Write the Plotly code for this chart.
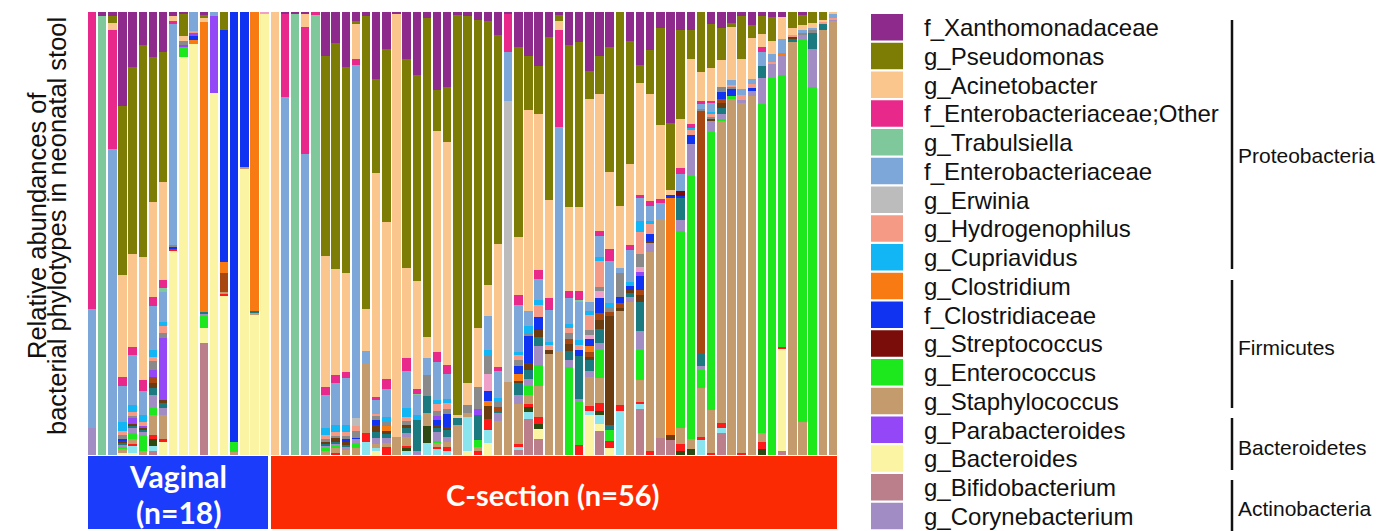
import plotly.graph_objects as go

samples = [f"V{i}" for i in range(1, 19)] + [f"C{i}" for i in range(1, 57)]

# ---- relative abundances (% of reads) per sample; missing = 0 ----
xantho = {"V2":1,"V3":1,"V4":21,"V5":12.3,"V6":7.4,"V7":10,"V8":9,"V9":1,"V10":0.5,"V12":0.6,
 "C2":0.5,"C3":0.5,"C4":0.5,"C6":9.8,"C7":7,"C8":12.3,"C9":2.1,"C10":1,"C11":15.2,"C12":8.3,"C13":0.5,
 "C14":10.5,"C15":14.1,"C16":1.3,"C17":17.5,"C18":16.7,"C19":0.6,"C20":1,"C21":1.7,"C22":1.9,"C23":5.1,
 "C24":0.5,"C25":7.8,"C26":9.6,"C27":11.6,"C28":5.5,"C29":0.6,"C30":7.4,"C31":6.6,"C32":13.2,"C33":9.5,
 "C34":7.8,"C36":6.4,"C37":11.3,"C38":8.4,"C39":3.6,"C40":24.7,"C41":4,"C42":4,"C44":2.7,"C45":3.5,
 "C46":2.5,"C47":0.8,"C48":2.9,"C49":1,"C50":1.2,"C51":1.2,"C53":0.6}
pseudo = {"V3":1.5,"V4":38,"V5":42,"V6":47.4,"V7":32.4,"V8":29,"V10":5,"V12":0.8,"V14":4.1,
 "C6":44.8,"C7":50.4,"C8":46.3,"C9":0.4,"C10":65.4,"C11":21.2,"C12":38.7,"C14":46.9,"C15":46.3,"C16":71.3,
 "C17":9,"C18":12.3,"C19":89.6,"C20":82.7,"C21":69.6,"C22":59,"C23":46.7,"C25":42.5,"C26":11.9,"C27":10.2,
 "C28":36.5,"C29":1.5,"C30":36.6,"C31":36.1,"C32":6.3,"C33":8.4,"C34":28.2,"C35":43.6,"C36":27.3,"C37":3.8,
 "C38":9.9,"C39":21.7,"C40":15,"C41":19.9,"C42":6.4,"C43":13.5,"C44":10,"C45":7.3,"C46":0.8,"C47":9.8,
 "C48":2.9,"C49":3.8,"C50":5.2,"C52":3.6,"C53":2.3,"C54":2.5,"C55":1.7}
acineto = {"V3":1.5,"V4":23,"V5":20.7,"V6":27.5,"V7":21.4,"V8":21.8,"V9":1,"V10":1,"V12":0.8,
 "C1":100,"C4":2.9,"C6":29.3,"C7":23.7,"C8":22.2,"C9":8.1,"C10":9.4,"C11":50.4,"C12":35,"C13":95,"C14":20.1,
 "C15":24.1,"C16":4.7,"C17":49.4,"C18":49.9,"C19":0.7,"C20":4.9,"C21":13.2,"C22":7,"C23":27.5,"C25":13,
 "C26":44.2,"C27":33.1,"C28":21.8,"C29":1.9,"C30":19,"C31":18.4,"C32":45.8,"C33":29.7,"C34":17.2,"C35":13.9,
 "C36":17.7,"C37":23.5,"C38":23.7,"C39":16.5,"C40":1.1,"C41":10.7,"C42":14.5,"C43":6.5,"C44":7.3,"C45":6,
 "C46":11.8,"C47":6.5,"C48":9.2,"C49":3.1,"C50":2.9,"C51":4.8,"C52":1.5,"C53":1.1,"C54":1.1,"C55":0.5,"C56":0.5}
entero_other = {"V1":67,"V3":27,"V4":2,"V5":1.7,"V6":2.5,"V7":1.8,"V8":1.9,"V9":0.8,
 "C2":18.7,"C4":28.6,"C5":0.6,"C6":1.8,"C7":1.9,"C8":1.5,"C9":1.3,"C11":0.8,"C12":2.3,"C14":2.9,"C15":1.1,
 "C17":2.3,"C18":1.9,"C23":0.8,"C24":8.5,"C25":2.1,"C27":2.1,"C28":2.6,"C29":21.8,"C30":1.7,"C31":1.9,
 "C33":1.1,"C34":2.8,"C36":1.3,"C37":0.8,"C38":1.1,"C39":0.9,"C41":1.4,"C42":0.9,"C43":0.8,"C44":0.5,"C49":1.1}
trabul = {"V2":99,"V8":0.7,"C3":99.5,"C5":99,"C15":0.3,"C31":0.5}
entero = {"V1":27,"V3":69,"V4":8,"V5":11.3,"V6":5.4,"V7":10,"V8":6.8,"V9":49.6,"V11":4.1,"V13":0.8,
 "C2":80.8,"C4":67.6,"C6":7.4,"C7":9.4,"C8":10.5,"C9":79,"C10":3,"C11":3,"C12":6.4,"C14":8.3,"C15":4.5,
 "C16":3.8,"C17":8.5,"C18":5.6,"C22":7.5,"C23":6,"C24":10.9,"C25":10.5,"C26":3.2,"C27":4.3,"C28":7.1,
 "C29":50,"C30":5.8,"C31":8.3,"C32":2,"C33":4.5,"C34":9.4,"C35":1,"C36":7,"C37":4.9,"C38":3.4,"C39":3.6,
 "C41":3.8,"C43":1,"C44":2,"C46":1,"C47":1.5,"C48":1.1,"C49":3,"C50":1.9,"C51":3.2,"C53":0.8,"C54":0.5,"C56":0.8}
erwinia = {"C9":1.9,"C24":63.2}
hydro = {"V4":1,"V5":1,"V6":1,"V7":1,"V8":1.5,"V11":0.6,"C6":1,"C7":1,"C8":1,"C9":1,"C11":0.5,"C14":0.8,
 "C17":1.5,"C18":1.5,"C25":1,"C27":2.6,"C28":1,"C30":1,"C31":1,"C32":3.4,"C33":5.5,"C37":4.5,"C38":2.3,
 "C42":1,"C44":0.5,"C46":0.5,"C47":1.1,"C48":0.8,"C50":0.4,"C52":0.5,"C55":0.5,"C56":0.3}
cupria = {"V4":2,"V5":1.5,"V6":1.5,"V7":1.5,"V8":1,"C6":1.5,"C7":1.5,"C8":1.5,"C12":1,"C14":2,"C15":1.1,
 "C17":1,"C18":0.8,"C22":1.3,"C23":1,"C25":0.8,"C26":1.5,"C27":1.1,"C28":0.8,"C30":1,"C31":1.1,"C32":1,
 "C33":1,"C34":1,"C36":0.8,"C37":2.3,"C38":0.5,"C42":0.5,"C44":0.5}
clostridium = {"V11":1.1,"V12":65,"V14":2.3,"V17":67,"C12":1,"C22":1.1,"C25":1.5,"C32":1.5,"C40":52.9,"C51":0.6}
clostridiaceae = {"V4":0.4,"V9":0.3,"V11":0.7,"V14":52,"V15":96.3,"V16":34.8,"C8":0.5,"C9":0.3,"C11":1,
 "C17":1,"C18":3,"C22":2.3,"C25":2,"C26":6,"C27":2.7,"C31":1.5,"C32":1.5,"C33":3.4,"C35":1.5,"C36":1,
 "C37":3,"C38":1.6,"C40":0.5,"C41":0.5,"C42":2,"C45":1.5,"C46":1.6,"C48":0.8}
strepto = {"C41":1.1}
enteroc = {"V4":0.5,"V5":1.5,"V6":3.5,"V7":1.5,"V10":2.3,"V12":2.6,"V15":2.2,"C6":0.5,"C7":0.5,"C9":1.1,
 "C17":0.3,"C21":1.4,"C26":2,"C27":4.5,"C30":20,"C31":9.4,"C33":6,"C34":2.6,"C37":6.4,"C41":43.9,"C42":58.5,
 "C43":3.9,"C44":62.6,"C45":0.5,"C46":0.7,"C49":73.3,"C50":84.3,"C51":60.7,"C53":85.8,"C54":82.4}
staph = {"V4":0.8,"V5":1,"V6":1,"V7":4.5,"V8":5.5,"V14":0.5,"V15":0.6,"V16":0.5,"V17":0.5,"C6":1,"C7":1,
 "C8":1.2,"C9":1.5,"C10":15.4,"C11":1,"C12":1,"C13":4,"C14":2,"C16":3,"C17":1,"C18":1.3,"C19":6.7,"C20":1,
 "C21":1.1,"C23":7.5,"C24":16.5,"C25":9,"C26":2,"C27":6.4,"C28":22.5,"C29":23.2,"C32":6.5,"C33":5.6,"C35":21,
 "C36":33.9,"C37":4.5,"C38":44.4,"C39":49,"C41":3.4,"C42":2.1,"C43":11.2,"C44":9.7,"C45":67.3,"C46":78.9,
 "C47":78.3,"C48":80,"C49":1.9,"C52":92.5,"C53":7.4,"C55":95.5,"C56":98}
parabac = {"V5":1.2,"V6":0.4,"V7":1.5,"V8":14,"V10":0.5,"V11":0.7,"V13":17.5,"C17":1,"C21":1.5,"C37":1}
bacteroides = {"V4":0.5,"V5":0.5,"V8":3,"V9":46,"V10":90,"V11":91,"V12":3.4,"V13":81.5,"V14":35.7,"V16":64,
 "V17":31.5,"V18":99.5,"C11":1,"C20":1,"C22":2.6,"C27":2.2,"C32":9,"C33":1.4,"C34":1.5,"C51":22.9}
bifido = {"V7":1,"V12":25,"C25":1.2,"C26":8,"C27":3.4,"C33":5.3,"C37":9.8,"C39":3.7,"C40":3.3,"C45":4.8,"C51":0.8}
coryne = {"V1":6,"V4":0.5,"V5":1,"V6":0.7,"V7":3,"V8":1.5,"V12":0.6,"C6":0.5,"C7":0.5,"C8":0.5,"C9":1,
 "C11":1.3,"C12":1,"C14":1,"C15":0.8,"C17":2,"C18":1,"C23":1.8,"C25":2,"C26":1.5,"C27":4.2,"C30":1.4,
 "C31":0.5,"C32":1.5,"C33":1.5,"C36":1,"C37":4.1,"C38":1.8,"C41":2.4,"C42":7.1,"C43":1,"C44":2.5,"C45":1,
 "C47":0.4,"C48":1.1,"C49":6,"C50":3.2,"C51":4.4,"C53":1.1,"C54":8.5,"C56":0.4}
# minor, unlabeled taxa
teal = {"V4":0.5,"V5":0.5,"V6":0.4,"V7":1.5,"V8":1,"V12":0.3,"V17":0.4,"C6":0.5,"C7":0.5,"C8":0.5,"C11":1.5,
 "C12":1,"C14":1,"C15":7.1,"C16":3.7,"C17":1,"C18":1.5,"C19":1.5,"C21":5.6,"C23":0.5,"C25":2.5,"C26":2,
 "C27":1.9,"C30":2.2,"C31":9.4,"C32":2.3,"C33":3,"C34":1,"C36":1,"C37":6,"C41":4.9,"C43":2.6,"C45":1.5,
 "C49":2.6,"C52":0.8,"C54":3.8,"C55":1.4}
light_cyan = {"V5":1.5,"V7":1,"C10":3,"C11":0.5,"C14":1,"C16":2.6,"C17":1.5,"C18":1,"C20":7.5,"C22":3,
 "C25":0.5,"C26":1.5,"C32":1,"C33":1.9,"C35":9.8,"C37":1,"C43":3.4,"C45":1.3}
red = {"V5":0.5,"V7":1,"V8":0.5,"V9":0.5,"V14":0.4,"C7":0.5,"C10":1.9,"C12":1.7,"C14":0.5,"C17":0.3,"C18":0.7,
 "C21":0.8,"C22":2.4,"C25":0.8,"C26":0.7,"C27":1.6,"C31":2.3,"C32":1,"C33":1.6,"C34":1.6,"C35":1.4,"C37":0.5,
 "C38":0.8,"C41":1.5,"C43":0.6,"C44":0.4,"C45":1,"C47":0.5,"C49":1.5,"C51":0.5}
dark_brown = {"V4":0.5,"V5":0.5,"V6":0.5,"V7":1,"V8":0.7,"C6":0.5,"C7":0.7,"C8":0.8,"C11":1.5,"C12":0.7,
 "C14":0.7,"C17":0.7,"C18":0.7,"C22":2.9,"C25":0.5,"C26":1.5,"C27":1.5,"C28":1,"C30":1.6,"C32":0.8,"C33":2,
 "C34":24.5,"C35":0.7,"C36":0.5,"C37":1.5,"C38":0.5,"C40":1.1,"C44":0.4,"C45":1,"C52":0.4}
rust = {"V7":1.5,"V14":4.3,"C23":1,"C30":1,"C32":1,"C33":1.5,"C34":1,"C35":1.1,"C37":1,"C43":55,"C45":1}
dark_green = {"V7":1.5,"C14":0.5,"C16":3.8,"C26":1,"C27":1,"C33":1,"C41":1,"C42":1.4,"C49":1.4}
grey = {"V4":0.8,"V5":0.5,"V7":1.9,"V8":1,"V9":0.6,"V10":1,"C6":0.5,"C7":0.5,"C8":0.7,"C9":1.5,"C11":1,
 "C12":1,"C14":1,"C16":4.9,"C17":1,"C18":1,"C20":1.9,"C21":4.9,"C22":4.1,"C23":1,"C25":1.3,"C26":0.7,
 "C30":1.5,"C32":1,"C33":0.9,"C34":1,"C35":5.4,"C37":2.8,"C43":0.4,"C44":0.5,"C45":1,"C46":0.5,"C53":0.3,"C54":0.4}
light_pink = {"V18":0.5,"C22":3.8,"C32":1,"C33":1.5,"C37":1}

legend_names = ["f_Xanthomonadaceae", "g_Pseudomonas", "g_Acinetobacter", "f_Enterobacteriaceae;Other",
                "g_Trabulsiella", "f_Enterobacteriaceae", "g_Erwinia", "g_Hydrogenophilus", "g_Cupriavidus",
                "g_Clostridium", "f_Clostridiaceae", "g_Streptococcus", "g_Enterococcus", "g_Staphylococcus",
                "g_Parabacteroides", "g_Bacteroides", "g_Bifidobacterium", "g_Corynebacterium"]
legend_colors = ["#8d2a8c", "#7d7d05", "#fbc58e", "#e8288a", "#7ec89b", "#7da7d9", "#bcbcbc", "#f59a84",
                 "#12b6f4", "#f77b12", "#0f33f0", "#7a0c0a", "#1de81d", "#c49b6c", "#9447f7", "#fbf4a2",
                 "#ba7f8a", "#a18cc4"]
phyla = ["Proteobacteria", "Firmicutes", "Bacteroidetes", "Actinobacteria"]
groups = ["<b>Vaginal</b>", "<b>(n=18)</b>", "<b>C-section (n=56)</b>"]

col = dict(zip(legend_names, legend_colors))
# stacking order, bottom -> top
stack = [
    ("g_Bifidobacterium", bifido, col["g_Bifidobacterium"]),
    ("g_Bacteroides", bacteroides, col["g_Bacteroides"]),
    ("other1", light_cyan, "#8ae4ee"),
    ("other2", dark_green, "#2d4a12"),
    ("other3", red, "#ff1a1a"),
    ("g_Staphylococcus", staph, col["g_Staphylococcus"]),
    ("g_Enterococcus", enteroc, col["g_Enterococcus"]),
    ("g_Corynebacterium", coryne, col["g_Corynebacterium"]),
    ("other4", teal, "#1a7a80"),
    ("other5", dark_brown, "#6b3c10"),
    ("other6", rust, "#a8470f"),
    ("g_Clostridium", clostridium, col["g_Clostridium"]),
    ("f_Clostridiaceae", clostridiaceae, col["f_Clostridiaceae"]),
    ("g_Parabacteroides", parabac, col["g_Parabacteroides"]),
    ("g_Streptococcus", strepto, col["g_Streptococcus"]),
    ("other7", light_pink, "#eea0c8"),
    ("other8", grey, "#8a8a8a"),
    ("g_Hydrogenophilus", hydro, col["g_Hydrogenophilus"]),
    ("g_Cupriavidus", cupria, col["g_Cupriavidus"]),
    ("g_Erwinia", erwinia, col["g_Erwinia"]),
    ("f_Enterobacteriaceae", entero, col["f_Enterobacteriaceae"]),
    ("g_Trabulsiella", trabul, col["g_Trabulsiella"]),
    ("f_Enterobacteriaceae;Other", entero_other, col["f_Enterobacteriaceae;Other"]),
    ("g_Acinetobacter", acineto, col["g_Acinetobacter"]),
    ("g_Pseudomonas", pseudo, col["g_Pseudomonas"]),
    ("f_Xanthomonadaceae", xantho, col["f_Xanthomonadaceae"]),
]

totals = {s: sum(d.get(s, 0) for _, d, _ in stack) for s in samples}
xs = list(range(len(samples)))

fig = go.Figure()
for name, d, c in stack:
    fig.add_trace(go.Bar(
        x=xs, y=[d.get(s, 0) / totals[s] * 100 for s in samples],
        name=name, marker=dict(color=c, line=dict(width=0)), showlegend=False,
        hovertemplate="%{customdata}<br>" + name + ": %{y:.1f}%<extra></extra>",
        customdata=samples,
    ))

W, H = 1379, 531
L, R, T, B = 87, 541, 12, 76
PW, PH = W - L - R, H - T - B


def xp(px):
    return (px - L) / PW


def yp(py):
    return (H - B - py) / PH


shapes = []
annotations = []
FONT = "Liberation Sans, Arial, sans-serif"

# legend swatches and labels
for i, (nm, c) in enumerate(zip(legend_names, legend_colors)):
    top = 14 + 28.75 * i
    shapes.append(dict(type="rect", xref="paper", yref="paper", x0=xp(871), x1=xp(903),
                       y0=yp(top + 26.5), y1=yp(top), fillcolor=c, line=dict(width=0)))
    annotations.append(dict(text=nm, xref="paper", yref="paper", x=xp(922), y=yp(top + 13.5),
                            xanchor="left", yanchor="middle", showarrow=False,
                            font=dict(family=FONT, size=24, color="#111111")))

# phylum brackets
brackets = [(20, 269, 155), (280, 408, 347), (418, 470, 447), (480, 531, 508)]
for ph, (a, b, c) in zip(phyla, brackets):
    shapes.append(dict(type="line", xref="paper", yref="paper", x0=xp(1232), x1=xp(1232),
                       y0=yp(a), y1=yp(b), line=dict(color="#111111", width=2.5)))
    annotations.append(dict(text=ph, xref="paper", yref="paper", x=xp(1236), y=yp(c),
                            xanchor="left", yanchor="middle", showarrow=False,
                            font=dict(family=FONT, size=21, color="#111111")))

# group boxes
shapes.append(dict(type="rect", xref="paper", yref="paper", x0=xp(88), x1=xp(268),
                   y0=yp(529), y1=yp(456), fillcolor="#1c3cfb", line=dict(width=0)))
shapes.append(dict(type="rect", xref="paper", yref="paper", x0=xp(271), x1=xp(837),
                   y0=yp(529), y1=yp(456), fillcolor="#fc2a02", line=dict(width=0)))
GFONT = dict(family="Lato, Open Sans, sans-serif", size=30, color="white")
annotations.append(dict(text=groups[0], xref="paper", yref="paper", x=xp(178), y=yp(476),
                        showarrow=False, xanchor="center", yanchor="middle", font=GFONT))
annotations.append(dict(text=groups[1], xref="paper", yref="paper", x=xp(178), y=yp(512),
                        showarrow=False, xanchor="center", yanchor="middle", font=GFONT))
annotations.append(dict(text=groups[2], xref="paper", yref="paper", x=xp(553), y=yp(494),
                        showarrow=False, xanchor="center", yanchor="middle",
                        font=dict(family="Lato, Open Sans, sans-serif", size=29, color="white")))

# y-axis title (two lines)
annotations.append(dict(text="Relative abundances of", xref="paper", yref="paper", x=xp(37), y=yp(226),
                        textangle=-90, showarrow=False, xanchor="center", yanchor="middle",
                        font=dict(family=FONT, size=25.5, color="#111111")))
annotations.append(dict(text="bacterial phylotypes in neonatal stool", xref="paper", yref="paper",
                        x=xp(57), y=yp(226), textangle=-90, showarrow=False, xanchor="center",
                        yanchor="middle", font=dict(family=FONT, size=25.5, color="#111111")))

fig.update_layout(
    width=W, height=H,
    margin=dict(l=L, r=R, t=T, b=B, pad=0),
    barmode="stack", bargap=0.17,
    paper_bgcolor="white", plot_bgcolor="white",
    xaxis=dict(range=[-0.5, len(samples) - 0.5], visible=False, fixedrange=True),
    yaxis=dict(range=[0, 100], visible=False, fixedrange=True),
    shapes=shapes, annotations=annotations,
    showlegend=False,
)

fig.write_html("out.html")
